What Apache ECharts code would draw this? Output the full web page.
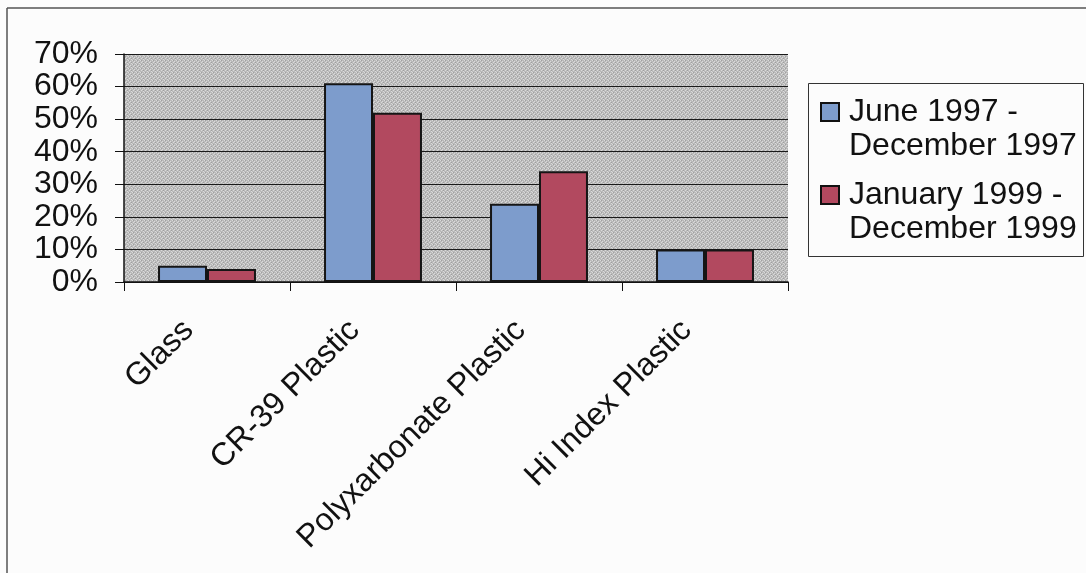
<!DOCTYPE html>
<html>
<head>
<meta charset="utf-8">
<title>Lens material share</title>
<script src="https://cdn.jsdelivr.net/npm/echarts@6/dist/echarts.min.js"></script>
<style>
  html, body { margin: 0; padding: 0; background: #fcfcfc; }
  #chart { width: 1086px; height: 573px; }
</style>
</head>
<body>
<div id="chart"></div>
<script>
// Lens material categories
const categories = ['Glass', 'CR-39 Plastic', 'Polyxarbonate Plastic', 'Hi Index Plastic'];

// Share of lenses (%) in each period
const seriesNames = ['June 1997 -\nDecember 1997', 'January 1999 -\nDecember 1999'];
const period1997 = [5, 61, 24, 10];
const period1999 = [4, 52, 34, 10];

// Value axis range and step (%)
const yMin = 0;
const yMax = 70;
const yStep = 10;

const FONT = '"Liberation Sans", Arial, sans-serif';

// Stippled grey fill for the plotting area
function stipple() {
  const c = document.createElement('canvas');
  c.width = 4; c.height = 4;
  const g = c.getContext('2d');
  g.fillStyle = '#bababa';
  g.fillRect(0, 0, 4, 4);
  g.fillStyle = '#dadada';
  [[0, 0], [2, 1], [1, 2], [3, 3]].forEach(p => g.fillRect(p[0], p[1], 1, 1));
  g.fillStyle = '#a0a0a0';
  [[1, 0], [3, 2]].forEach(p => g.fillRect(p[0], p[1], 1, 1));
  return { image: c, repeat: 'repeat' };
}

const chart = echarts.init(document.getElementById('chart'), null, { renderer: 'canvas' });

chart.setOption({
  backgroundColor: '#fcfcfc',
  animation: false,
  textStyle: { fontFamily: FONT },
  graphic: [
    // outer frame of the chart area (top and left edges)
    { type: 'line', shape: { x1: 7, y1: 8, x2: 1086, y2: 8 }, style: { stroke: '#555', lineWidth: 1.5 }, silent: true },
    { type: 'line', shape: { x1: 7, y1: 8, x2: 7, y2: 573 }, style: { stroke: '#555', lineWidth: 1.5 }, silent: true },
    // legend frame
    { type: 'rect', shape: { x: 808.5, y: 83.5, width: 275, height: 173 }, style: { fill: 'none', stroke: '#333', lineWidth: 1 }, silent: true }
  ],
  grid: {
    left: 124, right: 298, top: 54, bottom: 291,
    show: true, backgroundColor: stipple(), borderWidth: 0
  },
  legend: {
    orient: 'vertical',
    left: 820,
    top: 61,
    padding: 0,
    itemGap: -19,
    itemWidth: 18,
    itemHeight: 18,
    icon: 'rect',
    selectedMode: false,
    itemStyle: { borderColor: '#111', borderWidth: 2 },
    // a leading blank line keeps the swatch beside the first text line
    formatter: name => '\n' + name,
    textStyle: {
      fontFamily: FONT,
      fontSize: 32,
      color: '#111',
      lineHeight: 34,
      padding: [0, 0, 0, 5]
    },
    data: seriesNames
  },
  xAxis: {
    type: 'category',
    data: categories,
    axisLine: { show: true, lineStyle: { color: '#111', width: 1.5 } },
    axisTick: { show: true, length: 9, lineStyle: { color: '#111', width: 1 } },
    axisLabel: {
      rotate: 45,
      interval: 0,
      margin: 25,
      fontFamily: FONT,
      fontSize: 32,
      color: '#111',
      padding: [0, 26, 0, 0]
    },
    splitLine: { show: false }
  },
  yAxis: {
    type: 'value',
    min: yMin,
    max: yMax,
    interval: yStep,
    axisLine: { show: true, lineStyle: { color: '#111', width: 1.5 } },
    axisTick: { show: true, length: 9, lineStyle: { color: '#111', width: 1 } },
    axisLabel: {
      formatter: '{value}%',
      margin: 26,
      fontFamily: FONT,
      fontSize: 32,
      color: '#111'
    },
    splitLine: { show: true, lineStyle: { color: '#1a1a1a', width: 1.2 } }
  },
  series: [
    {
      name: seriesNames[0],
      type: 'bar',
      data: period1997,
      barGap: '0%',
      barCategoryGap: '41%',
      itemStyle: { color: '#7d9ccc', borderColor: '#151515', borderWidth: 2 }
    },
    {
      name: seriesNames[1],
      type: 'bar',
      data: period1999,
      barGap: '0%',
      barCategoryGap: '41%',
      itemStyle: { color: '#b2495f', borderColor: '#151515', borderWidth: 2 }
    }
  ]
});
</script>
</body>
</html>
